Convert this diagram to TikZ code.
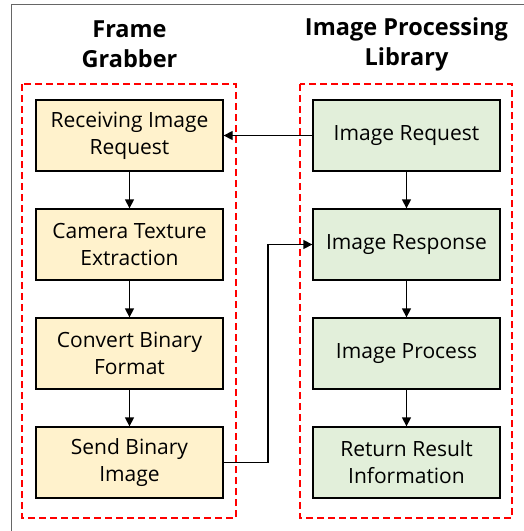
\documentclass[tikz,border=0pt]{standalone}
\usepackage{fontspec}
\setmainfont{Open Sans}
\usetikzlibrary{arrows.meta}

\definecolor{grabfill}{HTML}{FFF2CC}
\definecolor{libfill}{HTML}{E2EFDA}

\tikzset{
	stepnode/.style={draw, line width=1.3pt, minimum width=187pt, minimum height=71pt, inner sep=0pt, align=center, font=\fontsize{21}{27}\selectfont},
	title/.style={align=center, font=\bfseries\fontsize{23.5}{30}\selectfont},
	group/.style={draw=red, line width=1.3pt, dash pattern=on 7pt off 4pt},
	flow/.style={line width=1.3pt, -{Triangle[length=9pt,width=9pt]}}
}

\begin{document}
\begin{tikzpicture}[x=1pt, y=-1pt]
	\useasboundingbox (0,0) rectangle (524,531);
	\draw[gray!80!black, line width=1pt] (11,531) -- (11,4) -- (524,4);

	\node[title] (tgrab) at (129.5,44) {Frame\\Grabber};
	\node[title] (tlib) at (406.5,44) {Image Processing\\Library};

	\draw[group] (22,84) rectangle (236,518);
	\draw[group] (300,84) rectangle (512,518);

	% left column
	\foreach \t [count=\i] in {{Receiving Image\\Request}, {Camera Texture\\Extraction}, {Convert Binary\\Format}, {Send Binary\\Image}} {
		\node[stepnode, fill=grabfill] (g\i) at (129.5,26.5+\i*109) {\t};
	}
	% right column
	\foreach \t [count=\i] in {{Image Request}, {Image Response}, {Image Process}, {Return Result\\Information}} {
		\node[stepnode, fill=libfill] (l\i) at (406.5,26.5+\i*109) {\t};
	}

	\foreach \i [evaluate=\i as \j using int(\i+1)] in {1,2,3} {
		\draw[flow] (g\i) -- (g\j);
		\draw[flow] (l\i) -- (l\j);
	}

	\draw[flow] (l1) -- (g1);
	\coordinate (bend) at (268,0);
	\draw[flow] (g4.east) -- (g4.east -| bend) |- (l2.west);
\end{tikzpicture}
\end{document}
